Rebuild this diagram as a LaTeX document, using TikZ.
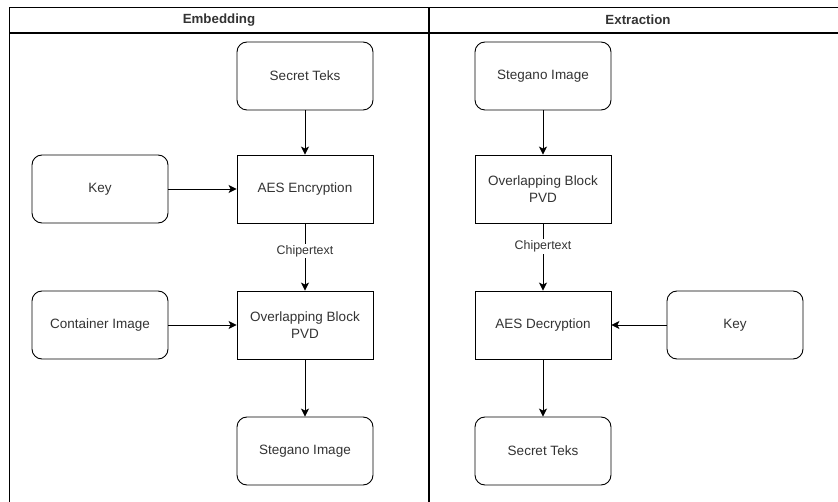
\documentclass[tikz,border=0pt]{standalone}
\usepackage{fontspec}
\setmainfont{Liberation Sans}
\usetikzlibrary{arrows.meta}
\definecolor{txt}{RGB}{51,51,51}
\begin{document}
\begin{tikzpicture}[x=1pt,y=-1pt,
  frame/.style={draw=black,line width=1.1pt},
  rbox/.style={draw=black,line width=0.9pt,rounded corners=10pt,minimum width=136pt,minimum height=68pt,inner sep=0pt,align=center,font=\fontsize{13.5}{17}\selectfont,text=txt},
  sbox/.style={draw=black,line width=0.9pt,minimum width=136pt,minimum height=68pt,inner sep=0pt,align=center,font=\fontsize{13.5}{17}\selectfont,text=txt},
  hdr/.style={font=\bfseries\fontsize{13.3}{16}\selectfont,text=txt},
  conn/.style={draw=black,line width=0.9pt,-{Stealth[length=8pt,width=8pt,inset=2pt]}},
  lbl/.style={fill=white,inner sep=1.5pt,font=\fontsize{12.4}{15}\selectfont,text=txt}]
\useasboundingbox (0,0) rectangle (838,502);
\clip (0,0) rectangle (838,502);
\fill[white] (0,0) rectangle (838,502);
% frame
\draw[frame] (9.5,515) -- (9.5,7.5) -- (860,7.5);
\draw[frame] (9.5,33) -- (860,33);
\draw[frame] (429,7.5) -- (429,515);
\node[hdr] (h1) at (219,20) {Embedding};
\node[hdr] (h2) at (638,20) {Extraction};
% embedding
\node[rbox] (st1) at (305,76) {Secret Teks};
\node[sbox] (enc) at (305,189) {AES Encryption};
\node[rbox] (k1) at (100,189) {Key};
\node[sbox] (ob1) at (305,325) {Overlapping Block\\PVD};
\node[rbox] (ci) at (100,325) {Container Image};
\node[rbox] (sg1) at (305,451) {Stegano Image};
\draw[conn] (st1) -- (enc);
\draw[conn] (k1) -- (enc);
\draw[conn] (enc) -- node[lbl,pos=0.41] {Chipertext} (ob1);
\draw[conn] (ci) -- (ob1);
\draw[conn] (ob1) -- (sg1);
% extraction
\node[rbox] (sg2) at (543,76) {Stegano Image};
\node[sbox] (ob2) at (543,189) {Overlapping Block\\PVD};
\node[sbox] (dec) at (543,325) {AES Decryption};
\node[rbox] (k2) at (735,325) {Key};
\node[rbox] (st2) at (543,451) {Secret Teks};
\draw[conn] (sg2) -- (ob2);
\draw[conn] (ob2) -- node[lbl,pos=0.34] {Chipertext} (dec);
\draw[conn] (k2) -- (dec);
\draw[conn] (dec) -- (st2);
\end{tikzpicture}
\end{document}
